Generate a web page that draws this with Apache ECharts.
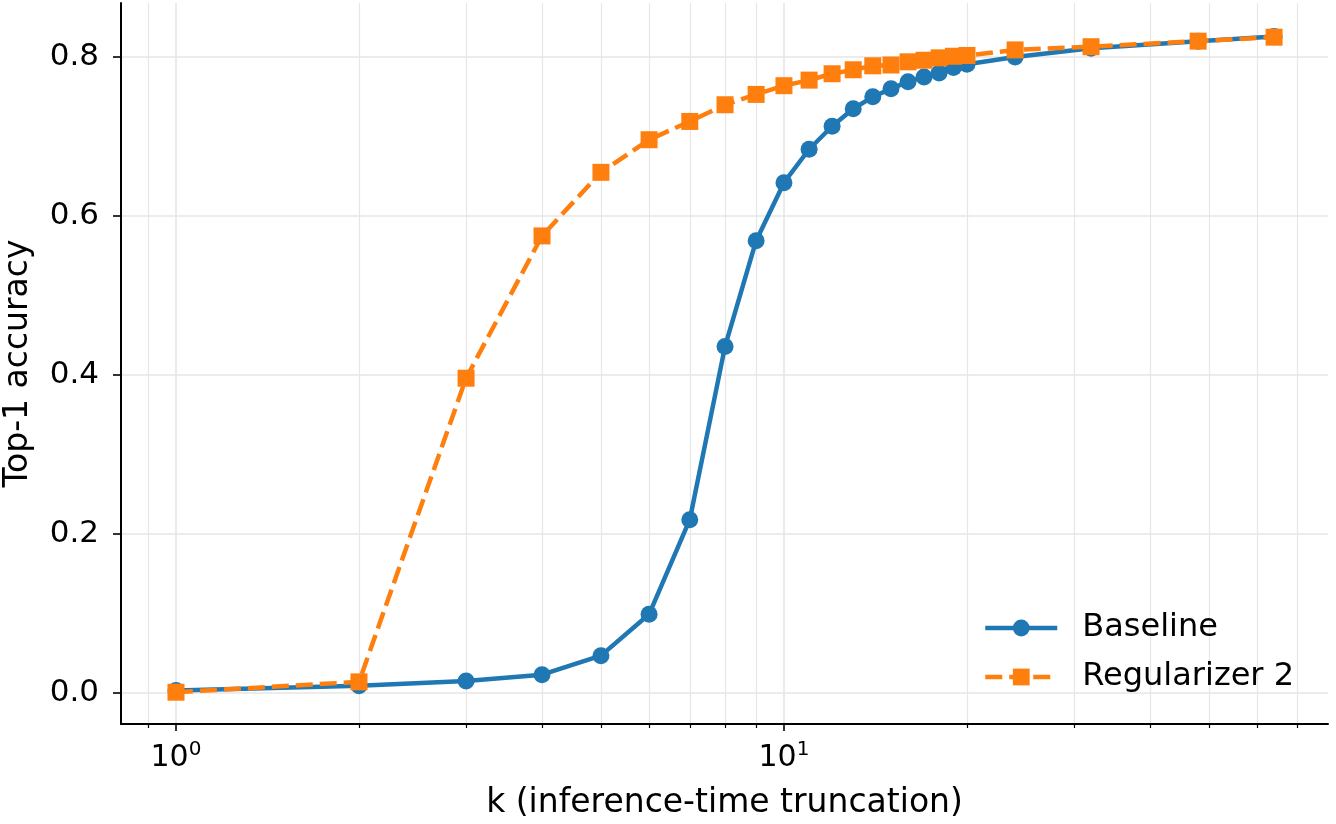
<!DOCTYPE html>
<html lang="en">
<head>
    <meta charset="UTF-8">
    <script src="https://cdn.jsdelivr.net/npm/echarts@6/dist/echarts.min.js"></script>
    <title>Top-1 accuracy vs k</title>
    <style>
        html, body { margin: 0; padding: 0; background: #fff; }
        #main { width: 1336px; height: 824px; }
    </style>
</head>
<body>
    <div id="main"></div>
    <script>
        // k values (log x)
        var kValues = [1, 2, 3, 4, 5, 6, 7, 8, 9, 10, 11, 12, 13, 14, 15, 16, 17, 18, 19, 20, 24, 32, 48, 64];
        // Baseline accuracy
        var baseline = [0.003, 0.009, 0.015, 0.023, 0.047, 0.099, 0.218, 0.436, 0.569, 0.642, 0.684, 0.713,
            0.735, 0.750, 0.760, 0.769, 0.775, 0.780, 0.787, 0.791, 0.800, 0.811, 0.820, 0.826];
        // Regularizer 2 accuracy
        var regularizer2 = [0.001, 0.014, 0.396, 0.575, 0.655, 0.696, 0.719, 0.740, 0.753, 0.764, 0.771, 0.779,
            0.784, 0.789, 0.790, 0.794, 0.796, 0.799, 0.801, 0.802, 0.809, 0.813, 0.820, 0.825];
        // tick positions
        var xMajorTicks = [1, 10];
        var xMinorTicks = [0.9, 2, 3, 4, 5, 6, 7, 8, 9, 20, 30, 40, 50, 60, 70];
        var yTicks = [0, 0.2, 0.4, 0.6, 0.8];

        var FONT = 'DejaVu Sans';
        var gridColor = '#e6e6e6';

        function pairs(xs, ys) {
            var out = [];
            for (var i = 0; i < xs.length; i++) out.push([xs[i], ys[i]]);
            return out;
        }

        var chart = echarts.init(document.getElementById('main'), null, { renderer: 'canvas' });
        var option = {
            animation: false,
            backgroundColor: '#fff',
            textStyle: { fontFamily: FONT },
            grid: { left: 121, top: 3, width: 1207, height: 721, containLabel: false, outerBoundsMode: 'none' },
            legend: {
                orient: 'vertical',
                left: 983,
                top: 612,
                itemGap: 17,
                itemWidth: 72,
                itemHeight: 21,
                padding: 0,
                lineStyle: { width: 4.5 },
                textStyle: { fontFamily: FONT, fontSize: 32, color: '#000', padding: [0, 0, 0, 20] },
                data: ['Baseline', 'Regularizer 2']
            },
            xAxis: [{
                type: 'log',
                logBase: 10,
                min: 0.812,
                max: 78.5,
                name: 'k (inference-time truncation)',
                nameLocation: 'middle',
                nameGap: 63,
                nameTextStyle: { fontFamily: FONT, fontSize: 33, color: '#000' },
                axisLine: { onZero: false, lineStyle: { color: '#000', width: 2 } },
                axisTick: { customValues: xMajorTicks, length: 7, lineStyle: { color: '#000', width: 1.6 } },
                axisLabel: {
                    customValues: xMajorTicks,
                    margin: 16,
                    formatter: function (v) {
                        return '{b|10}{s|' + Math.round(Math.log10(v)) + '}';
                    },
                    rich: {
                        b: { fontFamily: FONT, fontSize: 30, color: '#000', verticalAlign: 'bottom' },
                        s: { fontFamily: FONT, fontSize: 20, color: '#000', verticalAlign: 'bottom', padding: [0, 0, 13, 0] }
                    }
                },
                splitLine: { show: true, lineStyle: { color: gridColor, width: 1.6 } }
            }, {
                type: 'log',
                logBase: 10,
                min: 0.812,
                max: 78.5,
                position: 'bottom',
                axisLine: { show: false, onZero: false },
                axisTick: { customValues: xMinorTicks, length: 4, lineStyle: { color: '#000', width: 1.2 } },
                axisLabel: { show: false, customValues: xMinorTicks },
                splitLine: { show: true, lineStyle: { color: gridColor, width: 1.2 } }
            }],
            yAxis: {
                type: 'value',
                min: -0.039,
                max: 0.868,
                name: 'Top-1 accuracy',
                nameLocation: 'middle',
                nameGap: 86,
                nameTextStyle: { fontFamily: FONT, fontSize: 33, color: '#000' },
                axisLine: { show: true, onZero: false, lineStyle: { color: '#000', width: 2 } },
                axisTick: { show: true, customValues: yTicks, length: 8, lineStyle: { color: '#000', width: 1.6 } },
                axisLabel: {
                    customValues: yTicks,
                    margin: 22,
                    fontFamily: FONT,
                    fontSize: 31,
                    color: '#000',
                    formatter: function (v) { return v.toFixed(1); }
                },
                splitLine: { show: true, lineStyle: { color: gridColor, width: 1.6 } }
            },
            series: [{
                name: 'Baseline',
                type: 'line',
                xAxisIndex: 0,
                data: pairs(kValues, baseline),
                symbol: 'circle',
                symbolSize: 17,
                showAllSymbol: true,
                color: '#1f77b4',
                lineStyle: { width: 4.5, color: '#1f77b4' },
                itemStyle: { color: '#1f77b4' },
                z: 3
            }, {
                name: 'Regularizer 2',
                type: 'line',
                xAxisIndex: 0,
                data: pairs(kValues, regularizer2),
                symbol: 'rect',
                symbolSize: 17,
                showAllSymbol: true,
                color: '#ff7f0e',
                lineStyle: { width: 4.5, color: '#ff7f0e', type: [17, 7] },
                itemStyle: { color: '#ff7f0e' },
                z: 4
            }]
        };
        chart.setOption(option);
    </script>
</body>
</html>
